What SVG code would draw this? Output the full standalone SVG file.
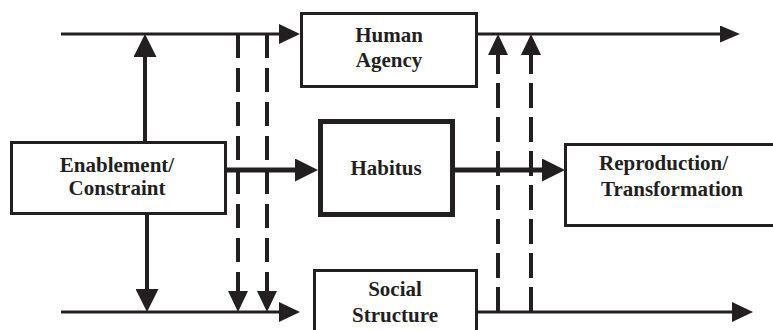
<svg xmlns="http://www.w3.org/2000/svg" width="773" height="330" viewBox="0 0 773 330">
  <style>
    .box { fill: #ffffff; stroke: #231f20; stroke-width: 3; }
    .box.heavy { stroke-width: 5; }
    .label { font-family: "Liberation Serif", "Times New Roman", serif; font-weight: bold; font-size: 21px; fill: #231f20; }
    .mid { text-anchor: middle; }
    .line { fill: none; stroke: #231f20; stroke-linecap: butt; }
    .thin { stroke-width: 3; }
    .solid { stroke-width: 4; }
    .thick { stroke-width: 5; }
    .dash { stroke-width: 4; stroke-dasharray: 24 10; }
    .dash-up { stroke-width: 4; stroke-dasharray: 25 9; }
  </style>
  <defs>
    <!-- arrowheads start at the end of the shaft and extend forward -->
    <marker id="head" markerUnits="userSpaceOnUse" markerWidth="21" markerHeight="20" viewBox="0 0 21 20" refX="0" refY="10" orient="auto">
      <path d="M0,0 L21,10 L0,20 Z" fill="#231f20"/>
    </marker>
    <marker id="head-narrow" markerUnits="userSpaceOnUse" markerWidth="20" markerHeight="17" viewBox="0 0 20 17" refX="0" refY="8.5" orient="auto">
      <path d="M0,0 L20,8.5 L0,17 Z" fill="#231f20"/>
    </marker>
    <marker id="head-big" markerUnits="userSpaceOnUse" markerWidth="23" markerHeight="23" viewBox="0 0 23 23" refX="0" refY="11.5" orient="auto">
      <path d="M0,0 L23,11.5 L0,23 Z" fill="#231f20"/>
    </marker>
  </defs>

  <rect width="773" height="330" fill="#ffffff"/>

  <g id="connectors">
    <!-- agency time line -->
    <path class="line thin" d="M61,34 H279" marker-end="url(#head)"/>
    <path class="line thin" d="M477,34 H720" marker-end="url(#head-narrow)"/>
    <!-- structure time line -->
    <path class="line thin" d="M61,312 H279" marker-end="url(#head)"/>
    <path class="line thin" d="M477,312 H732" marker-end="url(#head)"/>
    <!-- enablement / constraint acting on both lines -->
    <path class="line solid" d="M145,142 V57" marker-end="url(#head-big)"/>
    <path class="line solid" d="M147,213 V289" marker-end="url(#head-big)"/>
    <!-- agency feeding structure -->
    <path class="line dash" d="M238,34 V291" marker-end="url(#head)"/>
    <path class="line dash" d="M267,34 V291" marker-end="url(#head)"/>
    <!-- structure feeding agency -->
    <path class="line dash-up" d="M498,312 V55" marker-end="url(#head)"/>
    <path class="line dash-up" d="M531,312 V55" marker-end="url(#head)"/>
    <!-- main flow through habitus -->
    <path class="line thick" d="M226,170 H295" marker-end="url(#head-big)"/>
    <path class="line thick" d="M455,170 H542" marker-end="url(#head-big)"/>
  </g>

  <g id="human-agency">
    <rect class="box" x="301.5" y="13.5" width="175" height="73"/>
    <text class="label mid" x="389" y="42">Human</text>
    <text class="label mid" x="389" y="67">Agency</text>
  </g>

  <g id="enablement-constraint">
    <rect class="box" x="11.5" y="142.5" width="214" height="71"/>
    <text class="label mid" x="117" y="172">Enablement/</text>
    <text class="label mid" x="117" y="195">Constraint</text>
  </g>

  <g id="habitus">
    <rect class="box heavy" x="320.5" y="121.5" width="132" height="93"/>
    <text class="label mid" x="386" y="175">Habitus</text>
  </g>

  <g id="reproduction-transformation">
    <rect class="box" x="565.5" y="144.5" width="230" height="81"/>
    <text class="label" x="599" y="170">Reproduction/</text>
    <text class="label" x="601" y="196">Transformation</text>
  </g>

  <g id="social-structure">
    <rect class="box" x="314.5" y="270.5" width="162" height="80"/>
    <text class="label mid" x="395" y="296">Social</text>
    <text class="label mid" x="395" y="322">Structure</text>
  </g>
</svg>
